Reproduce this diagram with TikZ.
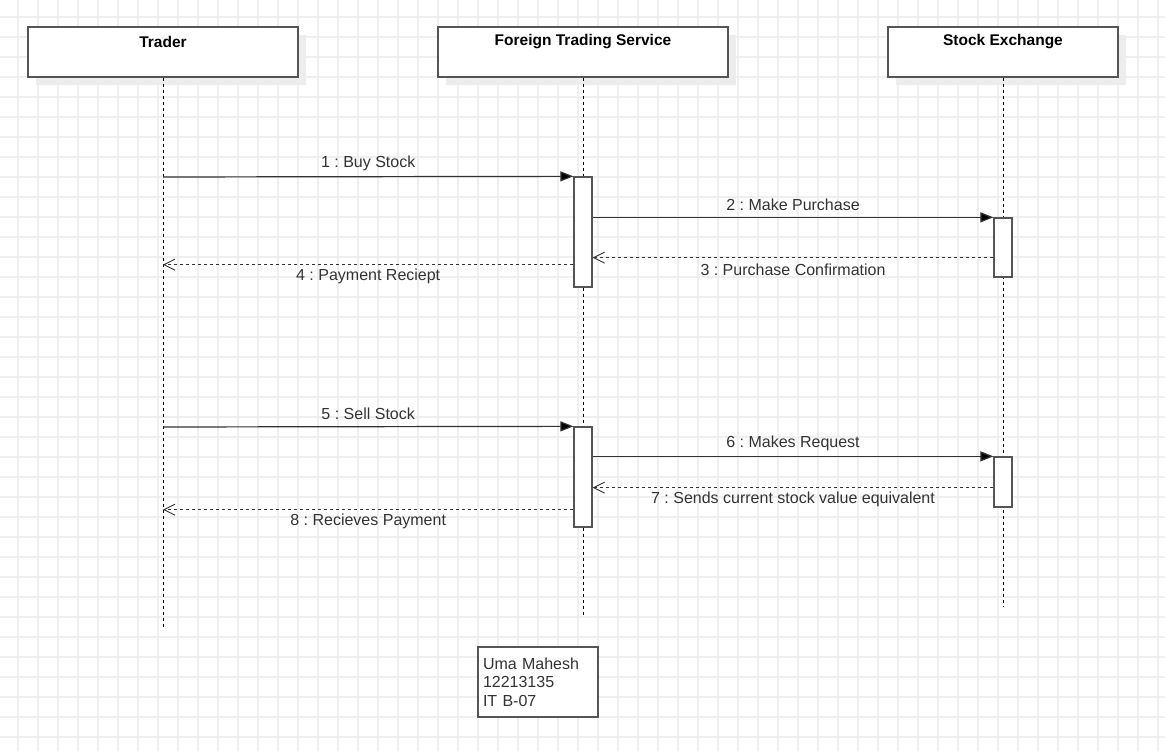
\documentclass[tikz,border=0pt]{standalone}
\usepackage{fontspec}
\setmainfont{Liberation Sans}
\usetikzlibrary{arrows.meta,shadows}
\definecolor{gridc}{HTML}{EFEFEF}
\definecolor{boxc}{HTML}{555555}
\definecolor{txtc}{HTML}{333333}
\frenchspacing
\begin{document}
\begin{tikzpicture}[x=1pt,y=-1pt,
  gridline/.style={draw=gridc, line width=2pt},
  head/.style={draw=boxc, line width=1.6pt, fill=white, minimum height=50pt, inner sep=0pt,
    drop shadow={shadow xshift=8pt, shadow yshift=-8pt, fill=black!7, opacity=1}},
  ttl/.style={font=\fontsize{15.5}{18}\selectfont\bfseries, text=black, inner sep=0pt},
  life/.style={draw=black, line width=0.9pt, dash pattern=on 3pt off 3pt},
  act/.style={draw=boxc, line width=1.3pt, fill=white, minimum width=18pt, inner sep=0pt},
  sync/.style={draw=txtc, line width=1.2pt, -{Triangle[length=13pt,width=10pt,fill=black]}},
  ret/.style={draw=txtc, line width=1pt, dash pattern=on 3pt off 3pt, -{Straight Barb[length=11pt,width=11pt,line width=0.9pt]}},
  lbl/.style={font=\fontsize{16}{18}\selectfont, text=txtc, inner sep=0pt},
  note/.style={draw=boxc, line width=1.6pt, fill=white, text width=110pt, align=left, inner sep=5pt,
    minimum height=70pt, font=\fontsize{16}{18.5}\selectfont, text=txtc}
]
\useasboundingbox (0,0) rectangle (1165,751);
\fill[white] (0,0) rectangle (1165,751);
% grid
\foreach \gx in {18,38,...,1158} \draw[gridline] (\gx,0) -- (\gx,751);
\foreach \gy in {17,37,...,737} \draw[gridline] (0,\gy) -- (1165,\gy);

% participants
\node[head, minimum width=270pt] (trader) at (163,52) {};
\node[head, minimum width=290pt] (fts) at (583,52) {};
\node[head, minimum width=230pt] (se) at (1003,52) {};
\node[ttl] (traderT) at (163,42) {Trader};
\node[ttl] (ftsT) at (583,42) {Foreign Trading Service};
\node[ttl] (seT) at (1003,42) {Stock Exchange};

% lifelines
\coordinate (traderEnd) at (163,627);
\coordinate (ftsEnd) at (583,615);
\coordinate (seEnd) at (1003,607);
\draw[life] (trader) -- (traderEnd);
\draw[life] (fts) -- (ftsEnd);
\draw[life] (se) -- (seEnd);

% activations
\node[act, minimum height=110pt] (a1) at (583,232) {};
\node[act, minimum height=59pt] (a2) at (1003,247.5) {};
\node[act, minimum height=100pt] (a3) at (583,477) {};
\node[act, minimum height=50pt] (a4) at (1003,482) {};

% messages
\coordinate (m1s) at (163,177);
\draw[sync] (m1s) -- (a1.north west) node[lbl, midway, yshift=13pt] {1 : Buy Stock};
\draw[sync] (a1.east |- a2.north) -- (a2.north west) node[lbl, midway, yshift=13pt] {2 : Make Purchase};
\coordinate (m3s) at ([yshift=20pt]a2.south west);
\draw[ret] (m3s) -- (m3s -| a1.east) node[lbl, midway, yshift=-12pt] {3 : Purchase Confirmation};
\coordinate (m4s) at ([yshift=23pt]a1.south west);
\draw[ret] (m4s) -- (m4s -| trader.south) node[lbl, midway, yshift=-12pt] {4 : Payment Reciept};

\coordinate (m5s) at (163,427);
\draw[sync] (m5s) -- (a3.north west) node[lbl, midway, yshift=13pt] {5 : Sell Stock};
\draw[sync] (a3.east |- a4.north) -- (a4.north west) node[lbl, midway, yshift=13pt] {6 : Makes Request};
\coordinate (m7s) at ([yshift=20pt]a4.south west);
\draw[ret] (m7s) -- (m7s -| a3.east) node[lbl, midway, yshift=-12pt] {7 : Sends current stock value equivalent};
\coordinate (m8s) at ([yshift=18pt]a3.south west);
\draw[ret] (m8s) -- (m8s -| trader.south) node[lbl, midway, yshift=-12pt] {8 : Recieves Payment};

% note
\node[note] (note) at (538,682) {Uma Mahesh\\12213135\\IT B-07};
\end{tikzpicture}
\end{document}
